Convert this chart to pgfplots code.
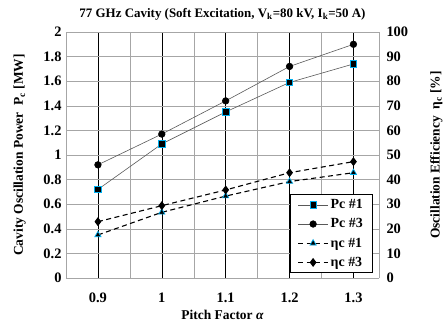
\documentclass[border=0pt]{standalone}
\usepackage{fontspec}
\setmainfont{Liberation Serif}
\usepackage{pgfplots}
\pgfplotsset{compat=1.18}
\definecolor{mcyan}{RGB}{0,176,240}
\begin{document}
\begin{tikzpicture}[x=1bp,y=1bp]
\useasboundingbox (-66bp,-48bp) rectangle (379bp,278bp);
\pgfplotsset{
  every axis/.append style={
    width=313bp, height=246bp, scale only axis,
    xmin=0.85, xmax=1.34,
    xtick={0.9,1.0,1.1,1.2,1.3},
    xticklabels={0.9,1,1.1,1.2,1.3},
    /pgf/number format/assume math mode=true,
    tick label style={font=\fontsize{14.5}{14.5}\selectfont\bfseries},
    label style={font=\fontsize{13.5}{14}\selectfont\bfseries},
    major tick length=0pt, minor tick length=0pt,
  }
}
\begin{axis}[
  ymin=0, ymax=2, ytick={0,0.2,...,2.01},
  yticklabels={0,0.2,0.4,0.6,0.8,1,1.2,1.4,1.6,1.8,2},
  minor xtick={0.95,1.05,1.15,1.25},
  xmajorgrids, ymajorgrids, xminorgrids,
  x grid style={black, line width=0.5pt},
  minor x grid style={gray!70, line width=0.5pt},
  y grid style={gray!70, line width=0.5pt},
  axis line style={gray!70, line width=0.6pt},
  axis y line*=left,
  axis x line*=bottom,
  xlabel={Pitch Factor \textit{α}},
  xlabel style={at={(axis description cs:0.5,-0.15)}, anchor=center},
  ylabel={Cavity Oscillation Power\ \ P\textsubscript{c} [MW]},
  ylabel style={at={(axis description cs:-0.148,0.5)}, anchor=center},
  xticklabel style={yshift=-11bp},
  yticklabel style={xshift=-1bp},
  title={77 GHz Cavity (Soft Excitation, V\textsubscript{k}=80 kV, I\textsubscript{k}=50 A)},
  title style={font=\fontsize{13}{13}\selectfont\bfseries, at={(axis description cs:0.5,1.0)}, anchor=south, yshift=2bp},
]
\addplot[gray!70!black, line width=0.6pt, mark=square*, mark size=3.2bp, mark options={fill=black, draw=mcyan, line width=0.7pt}]
  coordinates {(0.9,0.72) (1.0,1.09) (1.1,1.35) (1.2,1.59) (1.3,1.74)};
\addplot[gray!70!black, line width=0.6pt, mark=*, mark size=3.3bp, mark options={fill=black, draw=black}]
  coordinates {(0.9,0.92) (1.0,1.17) (1.1,1.44) (1.2,1.72) (1.3,1.90)};
\end{axis}
\begin{axis}[
  ymin=0, ymax=100, ytick={0,10,...,100},
  axis y line*=right,
  axis x line=none,
  ylabel={Oscillation Efficiency\ \ η\textsubscript{c} [\%]},
  ylabel style={at={(axis description cs:1.183,0.5)}, anchor=center},
  yticklabel style={xshift=4bp},
  axis line style={gray!70, line width=0.6pt},
  legend style={at={(axis description cs:0.978,0.02)}, anchor=south east, draw=black, line width=0.6pt, fill=white,
    font=\fontsize{14}{14}\selectfont\bfseries, row sep=4.5bp, inner xsep=7bp, inner ysep=3bp,
    nodes={inner xsep=2bp}},
  legend cell align=left,
  legend image code/.code={\draw[mark repeat=2,mark phase=2] plot coordinates {(0bp,0bp) (15bp,0bp) (30bp,0bp)};},
]
\addlegendimage{gray!70!black, line width=0.6pt, mark=square*, mark size=3.2bp, mark options={fill=black, draw=mcyan, line width=0.7pt}}
\addlegendentry{Pc \#1}
\addlegendimage{gray!70!black, line width=0.6pt, mark=*, mark size=3.3bp, mark options={fill=black, draw=black}}
\addlegendentry{Pc \#3}
\addplot[black, line width=1.1pt, dash pattern=on 5bp off 3.5bp, mark=triangle*, mark size=3.6bp, mark options={solid, fill=black, draw=mcyan, line width=0.7pt}]
  coordinates {(0.9,17.5) (1.0,26.7) (1.1,33.3) (1.2,39.2) (1.3,42.8)};
\addlegendentry{ηc \#1}
\addplot[black, line width=1.1pt, dash pattern=on 5bp off 3.5bp, mark=diamond*, mark size=3.6bp, mark options={solid, fill=black, draw=black}]
  coordinates {(0.9,22.9) (1.0,29.4) (1.1,35.8) (1.2,42.8) (1.3,47.3)};
\addlegendentry{ηc \#3}
\end{axis}
\end{tikzpicture}
\end{document}
